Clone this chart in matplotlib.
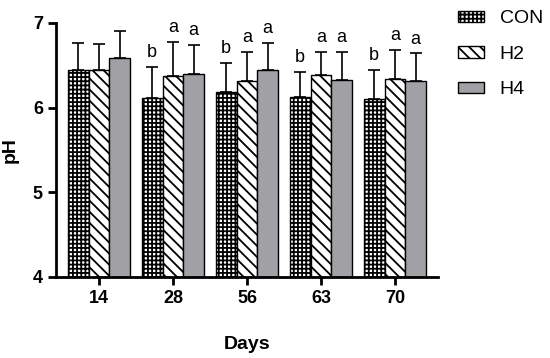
import matplotlib
matplotlib.use("Agg")
import matplotlib.pyplot as plt
import numpy as np

plt.rcParams['font.family'] = ['Liberation Sans', 'DejaVu Sans']
plt.rcParams['hatch.linewidth'] = 1.3

days = ["14", "28", "56", "63", "70"]
groups = ["CON", "H2", "H4"]
means = {
    "CON": [6.44, 6.11, 6.19, 6.13, 6.10],
    "H2":  [6.44, 6.37, 6.32, 6.38, 6.34],
    "H4":  [6.59, 6.40, 6.44, 6.33, 6.31],
}
errs = {
    "CON": [0.32, 0.37, 0.34, 0.29, 0.34],
    "H2":  [0.31, 0.41, 0.34, 0.28, 0.34],
    "H4":  [0.31, 0.34, 0.32, 0.33, 0.33],
}
letters = {
    "CON": ["", "b", "b", "b", "b"],
    "H2":  ["", "a", "a", "a", "a"],
    "H4":  ["", "a", "a", "a", "a"],
}

styles = {
    "CON": dict(facecolor="white", hatch="++++"),
    "H2":  dict(facecolor="white", hatch="\\\\\\"),
    "H4":  dict(facecolor="#a0a0a5", hatch=None),
}

fig = plt.figure(figsize=(5.5, 3.58), dpi=100)
ax = fig.add_axes([0.102, 0.2263, 0.694, 0.7095])

x = np.arange(len(days))
w = 0.28
for i, g in enumerate(groups):
    pos = x + (i - 1) * w
    m = np.array(means[g])
    e = np.array(errs[g])
    ax.bar(pos, m - 4, bottom=4, width=w, edgecolor="black", linewidth=1.0,
           label=g, yerr=[np.zeros_like(e), e],
           error_kw=dict(ecolor="black", elinewidth=1.2, capsize=4, capthick=1.2),
           **styles[g])
    for p, mv, ev, t in zip(pos, m, e, letters[g]):
        if t:
            ax.text(p, mv + ev + 0.07, t, ha="center", va="bottom", fontsize=13)

ax.set_ylim(4, 7)
ax.set_xlim(-0.58, 4.58)
ax.set_yticks([4, 5, 6, 7])
ax.set_xticks(x)
ax.set_xticklabels(days)
for s in ["top", "right"]:
    ax.spines[s].set_visible(False)
for s in ["left", "bottom"]:
    ax.spines[s].set_linewidth(2)
ax.tick_params(width=2, length=6, labelsize=13)
for lab in ax.get_xticklabels() + ax.get_yticklabels():
    lab.set_fontweight("bold")
ax.set_xlabel("Days", fontsize=14, fontweight="bold", labelpad=21)
ax.set_ylabel("pH", fontsize=14, fontweight="bold", labelpad=10)

fig.legend(loc="upper left", bbox_to_anchor=(0.801, 1.02), frameon=False,
           fontsize=14, handlelength=1.35, handleheight=0.55, labelspacing=0.95,
           handletextpad=0.8)

fig.savefig("out.png", dpi=100)
